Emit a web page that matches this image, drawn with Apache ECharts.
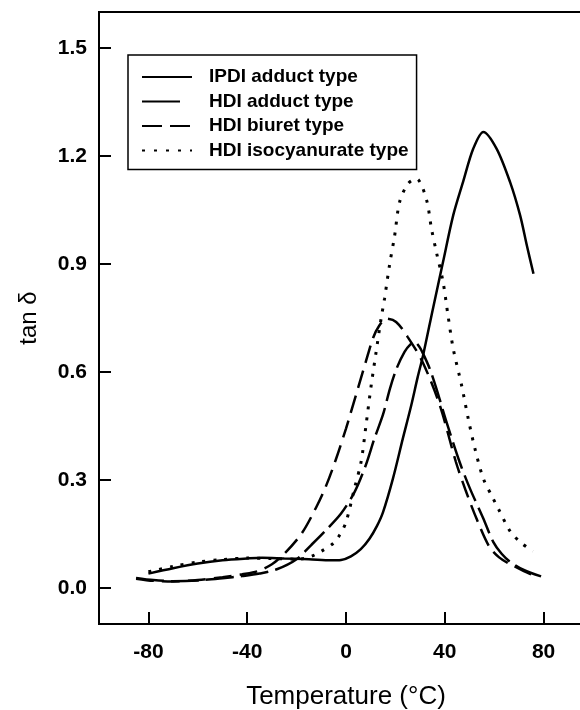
<!DOCTYPE html>
<html>
<head>
<meta charset="UTF-8">
<title>tan delta vs temperature</title>
<script src="https://cdn.jsdelivr.net/npm/echarts@6/dist/echarts.min.js"></script>
<style>
  html, body { margin: 0; padding: 0; background: #fff; }
  #chart { width: 580px; height: 710px; }
</style>
</head>
<body>
<div id="chart"></div>
<script>
// names as in the legend
var seriesNames = ['IPDI adduct type', 'HDI adduct type', 'HDI biuret type', 'HDI isocyanurate type'];

// [temperature °C, tan δ]
var ipdiAdduct = [[-80,0.040],[-70,0.055],[-60,0.068],[-50,0.077],[-40,0.082],[-34,0.084],[-25,0.082],[-15,0.080],
  [-6,0.077],[-2,0.078],[2,0.088],[6,0.108],[9.5,0.137],[12.5,0.172],[15,0.211],[19,0.304],[23,0.415],[26.4,0.507],
  [29,0.585],[31.2,0.646],[35.2,0.776],[39.3,0.906],[43.4,1.035],[47.4,1.128],[51.5,1.220],[55.6,1.267],[61,1.220],
  [66.4,1.128],[70.5,1.035],[73.2,0.952],[75.9,0.873]];

var hdiAdduct = [[-85,0.028],[-78,0.022],[-70,0.019],[-60,0.021],[-50,0.027],[-42,0.033],[-35,0.040],[-28,0.052],
  [-20,0.080],[-14,0.120],[-8.5,0.158],[-2,0.207],[3.5,0.267],[8,0.341],[11.5,0.415],[15,0.482],[17.8,0.554],
  [20.5,0.610],[23.7,0.656],[26,0.676],[27.8,0.683],[29.5,0.672],[31.2,0.651],[33.9,0.609],[36.6,0.554],[40.7,0.461],
  [46,0.350],[50.2,0.276],[55.6,0.193],[59.6,0.128],[63,0.095],[66.6,0.072],[72,0.050],[79.5,0.031]];

var hdiBiuret = [[-85,0.026],[-78,0.020],[-70,0.018],[-60,0.022],[-50,0.030],[-42,0.038],[-36,0.046],[-30,0.066],
  [-25,0.095],[-18,0.151],[-12,0.225],[-8,0.285],[-4,0.359],[0,0.443],[4,0.535],[8,0.628],[11,0.695],[13.5,0.729],
  [16.3,0.748],[20.3,0.739],[25,0.697],[31,0.628],[38,0.507],[44.5,0.350],[48.5,0.270],[53,0.190],[58,0.115],
  [62,0.085],[66,0.068],[72,0.047],[76,0.035]];

var hdiIsocyanurate = [[-80,0.045],[-70,0.060],[-60,0.072],[-50,0.079],[-40,0.083],[-30,0.082],[-19,0.080],[-14,0.088],
  [-10,0.102],[-5,0.125],[-2.5,0.148],[0,0.183],[3.4,0.276],[6.1,0.350],[8.1,0.452],[10.2,0.563],[12.2,0.656],
  [14.2,0.748],[15.6,0.804],[17.6,0.896],[19.7,0.979],[21.7,1.072],[25.1,1.123],[28.5,1.137],[32.5,1.081],
  [34.6,0.998],[36.6,0.933],[39.3,0.850],[41.3,0.757],[43.4,0.665],[46.8,0.563],[49.5,0.470],[52.2,0.387],
  [55.6,0.304],[59.6,0.248],[61.7,0.220],[66.6,0.156],[71,0.125],[75.7,0.102]];

var xTicks = [-80, -40, 0, 40, 80];
var yTicks = [0, 0.3, 0.6, 0.9, 1.2, 1.5];

var font = 'Liberation Sans, Arial, sans-serif';
var chart = echarts.init(document.getElementById('chart'), null, {renderer: 'canvas'});

function line(name, data, type, width) {
    return {
        name: name,
        type: 'line',
        data: data,
        symbol: 'none',
        smooth: 0.3,
        itemStyle: {color: '#000'},
        lineStyle: {color: '#000', width: width, type: type},
        silent: true
    };
}

chart.setOption({
    animation: false,
    backgroundColor: '#fff',
    grid: {
        left: 99, top: 12, right: -13, bottom: 86,
        show: true, borderColor: '#000', borderWidth: 2,
        outerBoundsMode: 'none'
    },
    legend: {
        orient: 'vertical',
        left: 128, top: 55,
        padding: [12, 8, 9, 13],
        borderColor: '#000', borderWidth: 1.5,
        backgroundColor: '#fff',
        itemWidth: 50, itemHeight: 20, itemGap: 4.5,
        itemStyle: {opacity: 0},
        textStyle: {color: '#000', fontFamily: font, fontSize: 19, fontWeight: 'bold', lineHeight: 20, padding: [0, 0, 0, 12]},
        data: [
            {name: seriesNames[0]},
            {name: seriesNames[1], lineStyle: {type: [38, 30]}},
            {name: seriesNames[2], lineStyle: {type: [20, 8]}},
            {name: seriesNames[3], lineStyle: {type: [3, 9]}}
        ]
    },
    xAxis: {
        type: 'value', min: -100, max: 100,
        name: 'Temperature (°C)', nameLocation: 'middle', nameGap: 60,
        nameTextStyle: {color: '#000', fontFamily: font, fontSize: 26},
        axisLine: {onZero: false, lineStyle: {color: '#000', width: 2}},
        axisTick: {inside: true, length: 12, lineStyle: {color: '#000', width: 2}, customValues: xTicks},
        axisLabel: {color: '#000', fontFamily: font, fontSize: 21, fontWeight: 'bold', margin: 18, customValues: xTicks},
        splitLine: {show: false}
    },
    yAxis: {
        type: 'value', min: -0.1, max: 1.6,
        name: 'tan δ', nameLocation: 'middle', nameGap: 58, nameRotate: 90,
        nameTextStyle: {color: '#000', fontFamily: font, fontSize: 24},
        axisLine: {onZero: false, lineStyle: {color: '#000', width: 2}},
        axisTick: {inside: true, length: 12, lineStyle: {color: '#000', width: 2}, customValues: yTicks},
        axisLabel: {color: '#000', fontFamily: font, fontSize: 21, fontWeight: 'bold', margin: 12, customValues: yTicks,
            formatter: function (v) { return v.toFixed(1); }},
        splitLine: {show: false}
    },
    series: [
        line(seriesNames[0], ipdiAdduct, 'solid', 2.5),
        line(seriesNames[1], hdiAdduct, [28, 7], 2.5),
        line(seriesNames[2], hdiBiuret, [18, 8], 2.5),
        line(seriesNames[3], hdiIsocyanurate, [3, 8], 3)
    ]
});
</script>
</body>
</html>
